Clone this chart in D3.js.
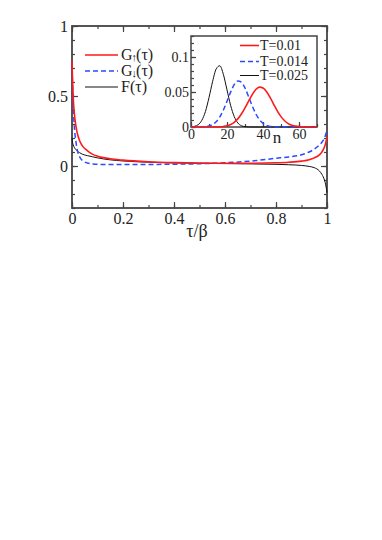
<!DOCTYPE html>
<html>
<head>
<meta charset="utf-8">
<script src="https://cdn.jsdelivr.net/npm/d3@7"></script>
<style>
html,body{margin:0;padding:0;background:#fff;}
text{font-family:"Liberation Serif",serif !important;}
</style>
</head>
<body>
<svg id="c" width="382" height="540" font-family="Liberation Serif"></svg>
<script>
// ---- main panel data ----
const tau = [0, 0.002, 0.005, 0.01, 0.015, 0.02, 0.03, 0.04, 0.06, 0.08, 0.1, 0.15, 0.2, 0.3, 0.4, 0.5, 0.6, 0.7, 0.8, 0.85, 0.9, 0.93, 0.95, 0.97, 0.98, 0.99, 0.995, 1.0];
const gUp = [0.75, 0.62, 0.48, 0.36, 0.29, 0.24, 0.18, 0.145, 0.11, 0.085, 0.07, 0.052, 0.042, 0.03, 0.024, 0.021, 0.02, 0.02, 0.023, 0.027, 0.035, 0.045, 0.058, 0.08, 0.1, 0.135, 0.165, 0.21];
const gDown = [0.75, 0.58, 0.42, 0.26, 0.18, 0.12, 0.065, 0.04, 0.022, 0.015, 0.012, 0.011, 0.011, 0.011, 0.013, 0.016, 0.023, 0.035, 0.055, 0.065, 0.08, 0.1, 0.12, 0.15, 0.17, 0.2, 0.225, 0.26];
const fTau = [0.2, 0.17, 0.15, 0.13, 0.118, 0.108, 0.095, 0.085, 0.074, 0.066, 0.058, 0.044, 0.036, 0.027, 0.022, 0.019, 0.017, 0.015, 0.012, 0.009, 0.004, -0.003, -0.012, -0.035, -0.06, -0.1, -0.135, -0.19];
const mainXTicks = [0, 0.2, 0.4, 0.6, 0.8, 1];
const mainXLabels = ["0", "0.2", "0.4", "0.6", "0.8", "1"];
const mainYTicks = [0, 0.5, 1];
const mainYLabels = ["0", "0.5", "1"];
const mainLegend = ["G", "G", "F"];

// ---- inset data ----
const nVals = [0, 2, 4, 6, 8, 10, 12, 14, 16, 18, 20, 22, 24, 26, 28, 30, 32, 34, 36, 38, 40, 42, 44, 46, 48, 50, 52, 54, 56, 58, 60, 62, 64, 66, 68, 70];
const pT001 = [0, 0, 0, 0, 0, 0, 0, 0, 0.0003, 0.0008, 0.0017, 0.0035, 0.0067, 0.0116, 0.0185, 0.0273, 0.037, 0.0463, 0.0535, 0.0569, 0.0557, 0.0503, 0.0419, 0.0321, 0.0227, 0.0148, 0.0089, 0.0049, 0.0025, 0.0012, 0.0005, 0.0002, 0, 0, 0, 0];
const pT0014 = [0, 0, 0, 0, 0.0006, 0.0015, 0.0036, 0.0075, 0.0143, 0.0242, 0.0367, 0.0498, 0.0605, 0.0658, 0.064, 0.0557, 0.0434, 0.0302, 0.0189, 0.0105, 0.0053, 0.0023, 0.0009, 0.0003, 0.0001, 0, 0, 0, 0, 0, 0, 0, 0, 0, 0, 0];
const pT0025 = [0.0002, 0.001, 0.0033, 0.0095, 0.022, 0.042, 0.065, 0.083, 0.0875, 0.075, 0.053, 0.031, 0.015, 0.0058, 0.0018, 0.0005, 0.0001, 0, 0, 0, 0, 0, 0, 0, 0, 0, 0, 0, 0, 0, 0, 0, 0, 0, 0, 0];
const insetXTicks = [0, 20, 40, 60];
const insetYTicks = [0, 0.05, 0.1];
const insetYLabels = ["0", "0.05", "0.1"];
const insetLegend = ["T=0.01", "T=0.014", "T=0.025"];

const svg = d3.select("#c");
const axisColor = "#444";

// ---------- main panel ----------
const x = d3.scaleLinear().domain([0, 1]).range([72, 327]);
const y = d3.scaleLinear().domain([-0.3, 1]).range([208, 26]);

function styleAxis(g) {
  g.attr("font-family", "Liberation Serif");
  g.select(".domain").remove();
  g.selectAll(".tick line").attr("stroke", axisColor).attr("stroke-width", 1.2);
}
const minorX = d3.range(0, 1.0001, 0.1);
const minorY = d3.range(-0.3, 1.0001, 0.1);

// bottom
svg.append("g").attr("transform", `translate(0,${y.range()[0]})`)
  .call(d3.axisBottom(x).tickValues(minorX).tickSize(-3).tickFormat("")).call(styleAxis);
svg.append("g").attr("transform", `translate(0,${y.range()[0]})`)
  .call(d3.axisBottom(x).tickValues(mainXTicks).tickSize(-6).tickPadding(5)
    .tickFormat((d, i) => mainXLabels[i])).call(styleAxis)
  .selectAll("text").attr("font-size", 16);
// top
svg.append("g").attr("transform", `translate(0,${y.range()[1]})`)
  .call(d3.axisTop(x).tickValues(minorX).tickSize(-3).tickFormat("")).call(styleAxis);
svg.append("g").attr("transform", `translate(0,${y.range()[1]})`)
  .call(d3.axisTop(x).tickValues(mainXTicks).tickSize(-6).tickFormat("")).call(styleAxis);
// left
svg.append("g").attr("transform", `translate(${x.range()[0]},0)`)
  .call(d3.axisLeft(y).tickValues(minorY).tickSize(-3).tickFormat("")).call(styleAxis);
svg.append("g").attr("transform", `translate(${x.range()[0]},0)`)
  .call(d3.axisLeft(y).tickValues(mainYTicks).tickSize(-6).tickPadding(4)
    .tickFormat((d, i) => mainYLabels[i])).call(styleAxis)
  .selectAll("text").attr("font-size", 16);
// right
svg.append("g").attr("transform", `translate(${x.range()[1]},0)`)
  .call(d3.axisRight(y).tickValues(minorY).tickSize(-3).tickFormat("")).call(styleAxis);
svg.append("g").attr("transform", `translate(${x.range()[1]},0)`)
  .call(d3.axisRight(y).tickValues(mainYTicks).tickSize(-6).tickFormat("")).call(styleAxis);

// frame
svg.append("rect").attr("x", x(0)).attr("y", y(1)).attr("width", x(1) - x(0)).attr("height", y(-0.3) - y(1))
  .attr("fill", "none").attr("stroke", axisColor).attr("stroke-width", 1.8);

const mainLine = (ys) => d3.line().x((d, i) => x(tau[i])).y(d => y(d)).curve(d3.curveMonotoneX)(ys);
svg.append("path").attr("d", mainLine(fTau)).attr("fill", "none").attr("stroke", "#111").attr("stroke-width", 1);
svg.append("path").attr("d", mainLine(gDown)).attr("fill", "none").attr("stroke", "#2a4bff").attr("stroke-width", 1.5).attr("stroke-dasharray", "5,3");
svg.append("path").attr("d", mainLine(gUp)).attr("fill", "none").attr("stroke", "#ff1a1a").attr("stroke-width", 1.6);

svg.append("text").attr("x", 197).attr("y", 237).attr("text-anchor", "middle").attr("font-size", 18).text("τ/β");

// main legend
const legStyles = [
  {c: "#ff1a1a", w: 1.6, dash: null, sub: "↑"},
  {c: "#2a4bff", w: 1.5, dash: "5,3", sub: "↓"},
  {c: "#111", w: 1, dash: null, sub: null}
];
const legY = [55, 71, 87];
mainLegend.forEach((name, i) => {
  const s = legStyles[i];
  svg.append("line").attr("x1", 85).attr("x2", 118).attr("y1", legY[i]).attr("y2", legY[i])
    .attr("stroke", s.c).attr("stroke-width", s.w).attr("stroke-dasharray", s.dash);
  const t = svg.append("text").attr("x", 121).attr("y", legY[i] + 5).attr("font-size", 16);
  t.append("tspan").text(name);
  if (s.sub) {
    t.append("tspan").attr("font-size", 11).attr("dy", 1).attr("dx", -1).attr("font-weight", "bold").text(s.sub);
    t.append("tspan").attr("dy", -1).attr("dx", -1).text("(τ)");
  } else {
    t.append("tspan").text("(τ)");
  }
});

// ---------- inset ----------
const ix = d3.scaleLinear().domain([0, 70]).range([191, 317]);
const iy = d3.scaleLinear().domain([0, 0.13]).range([127, 36]);

svg.append("rect").attr("x", ix(0)).attr("y", iy(0.13)).attr("width", ix(70) - ix(0)).attr("height", iy(0) - iy(0.13))
  .attr("fill", "#fff");

svg.append("g").attr("transform", `translate(0,${iy(0)})`)
  .call(d3.axisBottom(ix).tickValues(d3.range(0, 71, 10)).tickSize(-3).tickFormat("")).call(styleAxis);
svg.append("g").attr("transform", `translate(0,${iy(0)})`)
  .call(d3.axisBottom(ix).tickValues(insetXTicks).tickSize(-5).tickPadding(2).tickFormat(d3.format("d"))).call(styleAxis)
  .selectAll("text").attr("font-size", 14);
svg.append("g").attr("transform", `translate(${ix(0)},0)`)
  .call(d3.axisLeft(iy).tickValues(d3.range(0, 0.1301, 0.01)).tickSize(-3).tickFormat("")).call(styleAxis);
svg.append("g").attr("transform", `translate(${ix(0)},0)`)
  .call(d3.axisLeft(iy).tickValues(insetYTicks).tickSize(-5).tickPadding(2)
    .tickFormat((d, i) => insetYLabels[i])).call(styleAxis)
  .selectAll("text").attr("font-size", 14);

svg.append("rect").attr("x", ix(0)).attr("y", iy(0.13)).attr("width", ix(70) - ix(0)).attr("height", iy(0) - iy(0.13))
  .attr("fill", "none").attr("stroke", axisColor).attr("stroke-width", 1.5);

svg.append("text").attr("x", 277).attr("y", 143).attr("text-anchor", "middle").attr("font-size", 17).text("n");

const insetLine = (ys) => d3.line().x((d, i) => ix(nVals[i])).y(d => iy(d)).curve(d3.curveMonotoneX)(ys);
const insetSeries = [
  {v: pT001, c: "#ff1a1a", w: 1.6, dash: null},
  {v: pT0014, c: "#2a4bff", w: 1.5, dash: "5,3"},
  {v: pT0025, c: "#111", w: 1, dash: null}
];
[2, 1, 0].forEach(i => {
  const s = insetSeries[i];
  svg.append("path").attr("d", insetLine(s.v)).attr("fill", "none").attr("stroke", s.c)
    .attr("stroke-width", s.w).attr("stroke-dasharray", s.dash);
});
const iLegY = [45.5, 61.5, 75.5];
insetLegend.forEach((name, i) => {
  const s = insetSeries[i];
  svg.append("line").attr("x1", 240).attr("x2", 259).attr("y1", iLegY[i]).attr("y2", iLegY[i])
    .attr("stroke", s.c).attr("stroke-width", s.w).attr("stroke-dasharray", s.dash);
  svg.append("text").attr("x", 260).attr("y", iLegY[i] + 4.5).attr("font-size", 14).text(name);
});

svg.selectAll("text").attr("fill", "#222");
</script>
</body>
</html>
